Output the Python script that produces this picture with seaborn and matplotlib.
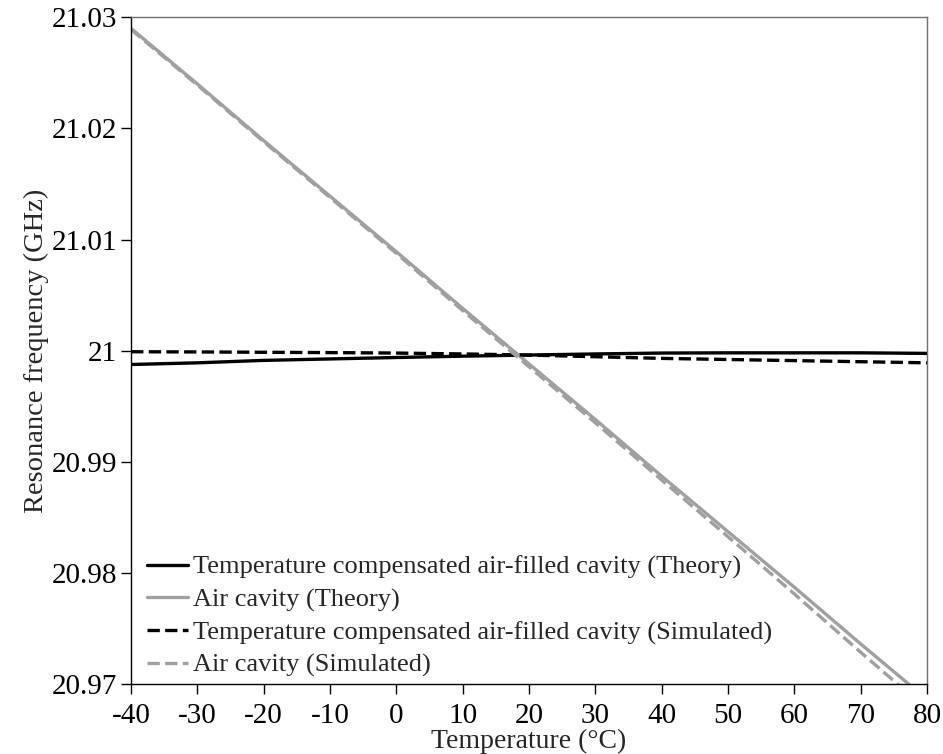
import numpy as np
import pandas as pd
import matplotlib
matplotlib.use("Agg")
import matplotlib.pyplot as plt
import seaborn as sns

temperature = [-40, -30, -20, -10, 0, 10, 20, 30, 40, 50, 60, 70, 80]
comp_theory = [20.99875, 20.9989, 20.99912, 20.99925, 20.99938, 20.9995, 20.9996,
               20.9997, 20.99978, 20.9998, 20.9998, 20.9998, 20.99975]
air_theory = [21.0290, 21.0240, 21.0189, 21.0139, 21.0089, 21.0038, 20.9988,
              20.9938, 20.9887, 20.9837, 20.9787, 20.9736, 20.9686]
comp_sim = [20.9999, 20.99988, 20.99985, 20.99982, 20.99978, 20.9997, 20.9996,
            20.99945, 20.9993, 20.9992, 20.9991, 20.999, 20.9989]
air_sim = [21.0289, 21.0239, 21.0188, 21.01378, 21.00875, 21.0036, 20.99855,
           20.9935, 20.98835, 20.98325, 20.9781, 20.97285, 20.9677]

series = [
    ("Temperature compensated air-filled cavity (Theory)", comp_theory, "black", "-"),
    ("Air cavity (Theory)", air_theory, "#a0a0a0", "-"),
    ("Temperature compensated air-filled cavity (Simulated)", comp_sim, "black", "--"),
    ("Air cavity (Simulated)", air_sim, "#a0a0a0", "--"),
]

sns.set_style("ticks")
plt.rcParams['font.family'] = ['Liberation Serif', 'DejaVu Serif']
plt.rcParams['axes.unicode_minus'] = False

fig = plt.figure(figsize=(9.43, 7.54), dpi=100)
ax = fig.add_axes([0.139, 0.093, 0.844, 0.884])

for name, vals, col, ls in series:
    df = pd.DataFrame({"T": temperature, "f": vals})
    sns.lineplot(data=df, x="T", y="f", ax=ax, color=col, linestyle=ls,
                 linewidth=2.4, label=name)

ax.set_xlim(-40, 80)
ax.set_ylim(20.97, 21.03)
ax.set_xticks(np.arange(-40, 81, 10))
ax.set_yticks([20.97, 20.98, 20.99, 21.0, 21.01, 21.02, 21.03])
ax.set_yticklabels(["20.97", "20.98", "20.99", "21", "21.01", "21.02", "21.03"])
ax.tick_params(labelsize=21, direction="out", length=7, width=1, colors="black", pad=3)
ax.tick_params(axis="x", pad=7)
ax.set_xlabel("Temperature (°C)", fontsize=20, labelpad=0)
ax.set_ylabel("Resonance frequency (GHz)", fontsize=20.5, labelpad=2)
for s in ax.spines.values():
    s.set_visible(True)
    s.set_color("black")
    s.set_linewidth(1)
ax.spines["top"].set_color("#707070")
ax.spines["right"].set_color("#707070")

leg = ax.legend(loc="lower left", frameon=False, fontsize=19, handlelength=1.55,
                handletextpad=0.2, labelspacing=0.33, borderpad=0, borderaxespad=0,
                bbox_to_anchor=(0.02, 0.01))

fig.savefig("out.png", dpi=100)
